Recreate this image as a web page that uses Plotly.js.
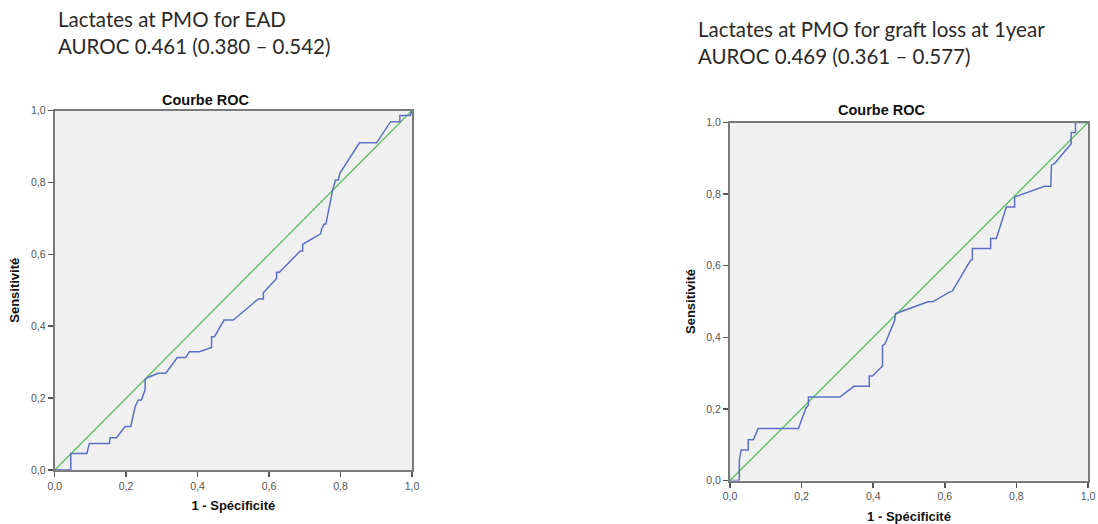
<!DOCTYPE html>
<html>
<head>
<meta charset="utf-8">
<script src="https://cdn.plot.ly/plotly-3.0.1.min.js"></script>
<style>html,body{margin:0;padding:0;background:#fff;}#chart{width:1098px;height:524px;}</style>
</head>
<body>
<div id="chart"></div>
<script>
// Left ROC: Lactates at PMO for EAD
const eadFpr = [0, 0.045, 0.045, 0.090, 0.097, 0.153, 0.155, 0.173, 0.197, 0.213, 0.225, 0.234, 0.243, 0.253, 0.253, 0.262, 0.290, 0.311, 0.343, 0.367, 0.377, 0.405, 0.439, 0.439, 0.447, 0.474, 0.500, 0.570, 0.584, 0.584, 0.621, 0.621, 0.629, 0.687, 0.694, 0.694, 0.744, 0.747, 0.754, 0.759, 0.778, 0.784, 0.786, 0.794, 0.798, 0.853, 0.901, 0.940, 0.966, 0.966, 0.980, 0.995, 1.0];
const eadTpr = [0, 0, 0.046, 0.046, 0.074, 0.074, 0.090, 0.090, 0.121, 0.121, 0.176, 0.195, 0.195, 0.223, 0.252, 0.258, 0.269, 0.269, 0.313, 0.313, 0.329, 0.329, 0.341, 0.371, 0.371, 0.417, 0.417, 0.476, 0.476, 0.493, 0.533, 0.550, 0.550, 0.609, 0.609, 0.628, 0.657, 0.670, 0.684, 0.684, 0.779, 0.797, 0.807, 0.807, 0.825, 0.910, 0.910, 0.969, 0.969, 0.986, 0.986, 0.986, 1.0];
// Right ROC: Lactates at PMO for graft loss at 1 year
const glFpr = [0, 0.026, 0.026, 0.031, 0.051, 0.051, 0.065, 0.079, 0.191, 0.212, 0.219, 0.219, 0.307, 0.346, 0.389, 0.389, 0.398, 0.426, 0.426, 0.433, 0.460, 0.462, 0.553, 0.566, 0.614, 0.621, 0.672, 0.677, 0.677, 0.728, 0.728, 0.744, 0.772, 0.795, 0.795, 0.879, 0.896, 0.898, 0.907, 0.953, 0.953, 0.965, 0.965, 1.0];
const glTpr = [0, 0, 0.056, 0.085, 0.085, 0.114, 0.114, 0.145, 0.145, 0.202, 0.210, 0.233, 0.233, 0.263, 0.263, 0.292, 0.292, 0.320, 0.377, 0.382, 0.447, 0.466, 0.499, 0.499, 0.527, 0.529, 0.615, 0.617, 0.648, 0.648, 0.676, 0.676, 0.764, 0.764, 0.792, 0.822, 0.822, 0.881, 0.886, 0.941, 0.972, 0.972, 1.0, 1.0];
const refLine = [0, 1];
const tickVals = [0, 0.2, 0.4, 0.6, 0.8, 1.0];
const tickLabels = ["0,0", "0,2", "0,4", "0,6", "0,8", "1,0"];
const titleLeft = "Lactates at PMO for EAD<br>AUROC 0.461 (0.380 – 0.542)";
const titleRight = "Lactates at PMO for graft loss at 1year<br>AUROC 0.469 (0.361 – 0.577)";

const W = 1098, H = 524;
const blue = "#5b6fc4", green = "#5cc462";

function traces(fx, fy, xa, ya) {
  return [
    {x: refLine, y: refLine, xaxis: xa, yaxis: ya, mode: "lines", line: {color: green, width: 1.4}, hoverinfo: "skip"},
    {x: fx, y: fy, xaxis: xa, yaxis: ya, mode: "lines", line: {color: blue, width: 1.5, shape: "linear"}}
  ];
}
function axis(dom, anchor, titleText, standoff) {
  return {
    domain: dom, anchor: anchor, range: [0, 1], tickvals: tickVals, ticktext: tickLabels,
    showgrid: false, zeroline: false, showline: true, mirror: true, linecolor: "#7a7a7a", linewidth: 2,
    ticks: "outside", ticklen: 5, tickwidth: 1.5, tickcolor: "#555",
    tickfont: {family: "Liberation Sans, Arial", size: 10.5, color: "#555"},
    title: {text: titleText, font: {family: "Liberation Sans, Arial", size: 13, color: "#111"}, standoff: standoff},
    fixedrange: true
  };
}
const L = {x0: 54.7, x1: 412, y0: 110.5, y1: 470};
const R = {x0: 730, x1: 1088, y0: 122.5, y1: 480.5};
const layout = {
  width: W, height: H, margin: {l: 0, r: 0, t: 0, b: 0},
  paper_bgcolor: "#fff", plot_bgcolor: "#f0f0f0", showlegend: false,
  xaxis: axis([L.x0 / W, L.x1 / W], "y", "<b>1 - Spécificité</b>", 10),
  yaxis: axis([1 - L.y1 / H, 1 - L.y0 / H], "x", "<b>Sensitivité</b>", 8),
  xaxis2: axis([R.x0 / W, R.x1 / W], "y2", "<b>1 - Spécificité</b>", 11),
  yaxis2: axis([1 - R.y1 / H, 1 - R.y0 / H], "x2", "<b>Sensitivité</b>", 8),
  annotations: [
    {text: titleLeft, xref: "paper", yref: "paper", x: 56 / W, y: 1 - 5 / H, xanchor: "left", yanchor: "top", align: "left", showarrow: false,
     font: {family: "Lato, Open Sans", size: 20.5, color: "#2a2a2a"}},
    {text: titleRight, xref: "paper", yref: "paper", x: 696 / W, y: 1 - 15 / H, xanchor: "left", yanchor: "top", align: "left", showarrow: false,
     font: {family: "Lato, Open Sans", size: 20.5, color: "#2a2a2a"}},
    {text: "<b>Courbe ROC</b>", xref: "paper", yref: "paper", x: 206 / W, y: 1 - 100 / H, xanchor: "center", yanchor: "middle", showarrow: false,
     font: {family: "Liberation Sans, Arial", size: 14.5, color: "#111"}},
    {text: "<b>Courbe ROC</b>", xref: "paper", yref: "paper", x: 882 / W, y: 1 - 110 / H, xanchor: "center", yanchor: "middle", showarrow: false,
     font: {family: "Liberation Sans, Arial", size: 14.5, color: "#111"}}
  ]
};
const data = traces(eadFpr, eadTpr, "x", "y").concat(traces(glFpr, glTpr, "x2", "y2"));
Plotly.newPlot("chart", data, layout, {displayModeBar: false, staticPlot: true});
</script>
</body>
</html>
